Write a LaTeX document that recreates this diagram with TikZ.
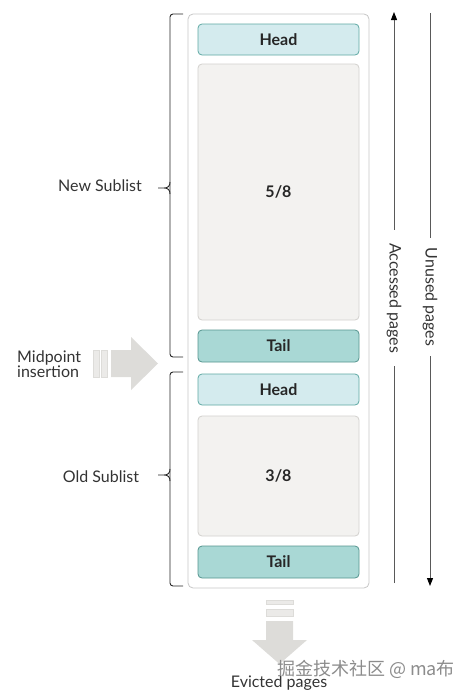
\documentclass[tikz,border=0pt]{standalone}
\usepackage{fontspec}
\setmainfont{Lato}
\newfontfamily\cjk{Noto Sans CJK SC}
\usepackage{tikz}
\usetikzlibrary{positioning,calc,arrows.meta}
\definecolor{headfill}{HTML}{D4EBEE}
\definecolor{headline}{HTML}{5FA9A4}
\definecolor{tailfill}{HTML}{A9D8D5}
\definecolor{tailline}{HTML}{55958F}
\definecolor{bodyfill}{HTML}{F3F2F0}
\definecolor{bodyline}{HTML}{D3D1CE}
\definecolor{bigarrow}{HTML}{DDDCD9}
\definecolor{labelgray}{HTML}{333333}
\tikzset{pagebox/.style={draw,line width=0.8pt,rounded corners=4pt,minimum width=161pt,inner sep=0pt,font=\fontsize{16}{18}\selectfont\bfseries,text=black!85}  }
\tikzset{headbox/.style={pagebox,fill=headfill,draw=headline,minimum height=31pt}  }
\tikzset{tailbox/.style={pagebox,fill=tailfill,draw=tailline,minimum height=32pt}  }
\tikzset{bodybox/.style={pagebox,fill=bodyfill,draw=bodyline}  }
\tikzset{sidelabel/.style={font=\fontsize{16}{18}\selectfont,text=labelgray,inner sep=0pt}  }
\tikzset{sublist/.style={draw=black!85,line width=0.9pt}  }
\tikzset{pagearrow/.style={draw=black!65,line width=1pt}  }
\tikzset{>={Triangle[length=8pt,width=6pt,black]}}

\begin{document}
\begin{tikzpicture}[x=1pt,y=-1pt]
  % canvas in pixels of the reference, y running down
\useasboundingbox (0,0) rectangle (473,699);
\begin{scope}

    % buffer pool list
    \node[draw=black!22,line width=0.8pt,fill=white,rounded corners=5pt,minimum width=181pt,minimum height=574pt,inner sep=0pt] (pool) at (278.5,301) {};
    \node[headbox] (newhead) at (278.5,39.5) {Head};
    \node[bodybox,minimum height=256pt] (newbody) at (278.5,192) {5/8};
    \node[tailbox] (newtail) at (278.5,346) {Tail};
    \node[headbox] (oldhead) at (278.5,389.5) {Head};
    \node[bodybox,minimum height=120pt] (oldbody) at (278.5,476) {3/8};
    \node[tailbox] (oldtail) at (278.5,562) {Tail};

    % sublist brackets
    \draw[sublist,rounded corners=3pt] (183,14) -| (170,357) -- (183,357);
    \draw[sublist] (158,188) -- (164,188) .. controls (168,188) and (170,186) .. (170,182)
                   (164,188) .. controls (168,188) and (170,190) .. (170,194);
    \draw[sublist,rounded corners=3pt] (183,372) -| (170,586) -- (183,586);
    \draw[sublist] (158,475) -- (164,475) .. controls (168,475) and (170,473) .. (170,469)
                   (164,475) .. controls (168,475) and (170,477) .. (170,481);
    \node[sidelabel] (newlabel) at (100,186) {New Sublist};
    \node[sidelabel] (oldlabel) at (101,477) {Old Sublist};

    % midpoint insertion
    \node[sidelabel,align=left,anchor=west] (midlabel) at (17,364) {Midpoint\\[-3pt]insertion};
    \foreach \xa/\xb in {93/99,101/107}
    {
      \filldraw[fill=bigarrow!60,draw=bigarrow] (\xa,350) rectangle (\xb,377);
    }
    \fill[bigarrow] (111,350) -- (131,350) -- (131,337) -- (158,363.5) -- (131,390) -- (131,377) -- (111,377) -- cycle;

    % evicted pages
    \foreach \ya/\yb in {600/604,609/616}
    {
      \filldraw[fill=bigarrow!60,draw=bigarrow] (266,\ya) rectangle (293,\yb);
    }
    \fill[bigarrow] (266,621) -- (293,621) -- (293,640) -- (307,640) -- (279.5,664) -- (252,640) -- (266,640) -- cycle;
    \node[sidelabel] (evicted) at (279,683) {Evicted pages};

    % page order arrows
    \coordinate (acctop) at (394,12);
    \coordinate (accbot) at (394,583);
    \node[sidelabel,rotate=-90,inner xsep=13pt] (accessed) at (394,298) {Accessed pages};
    \draw[pagearrow] (accbot) -- (accessed.east);
    \draw[pagearrow,->] (accessed.west) -- (acctop);
    \coordinate (unutop) at (430,13);
    \coordinate (unubot) at (430,586);
    \node[sidelabel,rotate=-90,inner xsep=10pt] (unused) at (430,297) {Unused pages};
    \draw[pagearrow] (unutop) -- (unused.west);
    \draw[pagearrow,->] (unused.east) -- (unubot);

    % watermark
    \node[font=\cjk\fontsize{18}{20}\selectfont,text=black!45,inner sep=0pt] (mark) at (366,669) {掘金技术社区 @ ma布};
  \end{scope}
\end{tikzpicture}
\end{document}
